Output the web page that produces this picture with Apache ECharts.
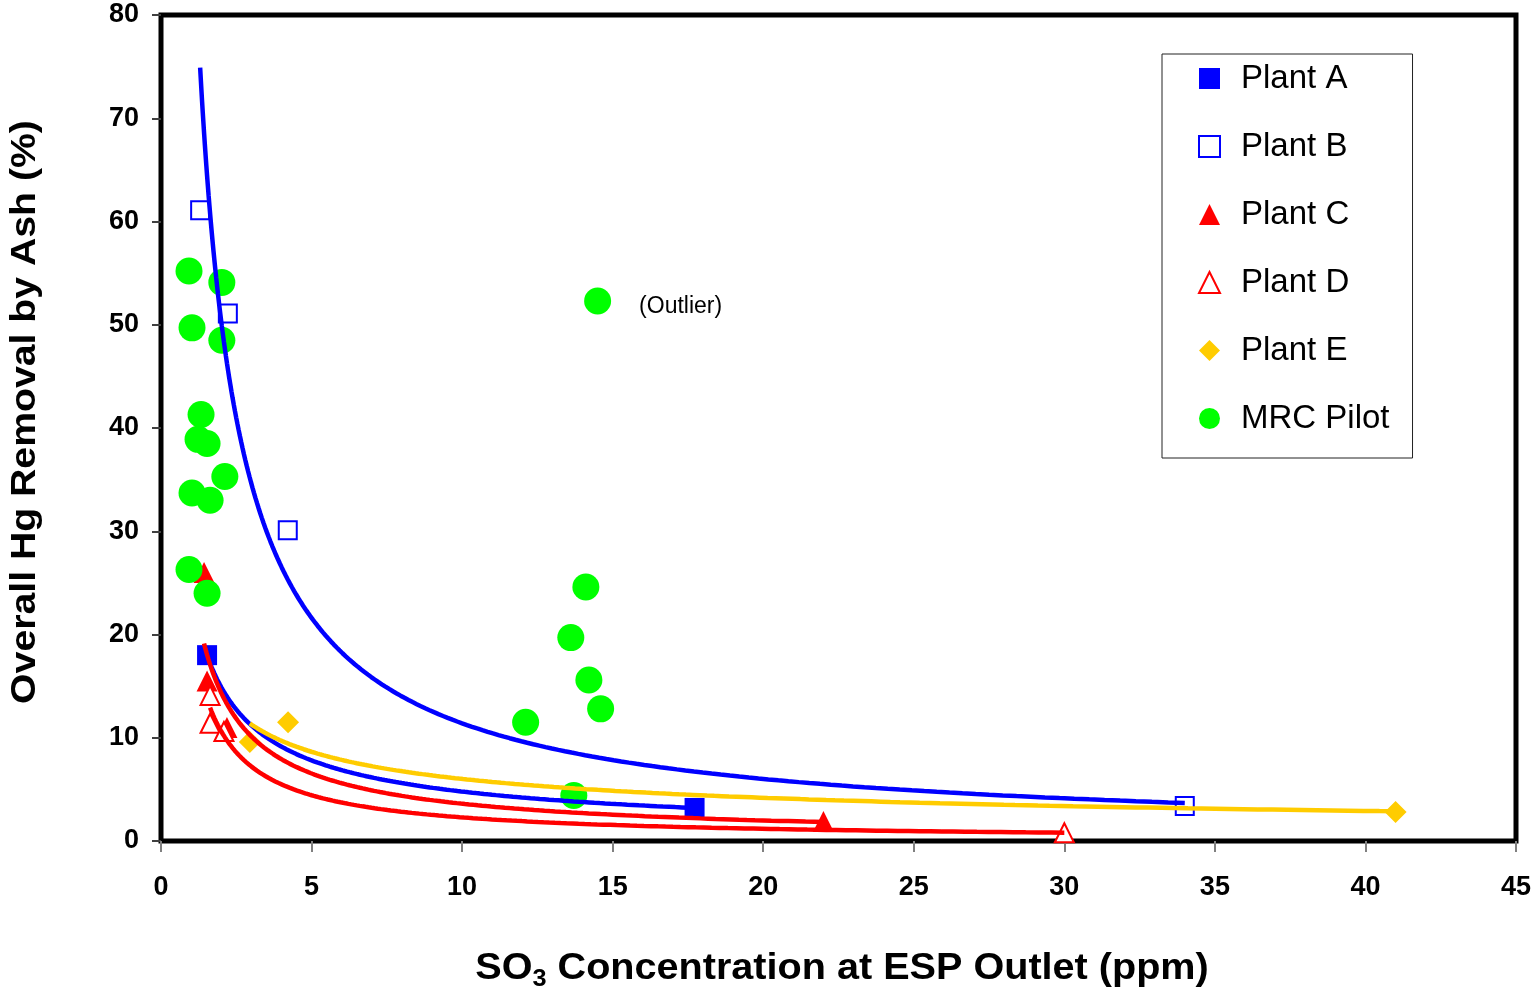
<!DOCTYPE html>
<html>
<head>
<meta charset="utf-8">
<script src="https://cdn.jsdelivr.net/npm/echarts@6/dist/echarts.min.js"></script>
<style>
  html, body { margin: 0; padding: 0; background: #fff; }
  #chart { width: 1536px; height: 991px; }
</style>
</head>
<body>
<div id="chart"></div>
<script>
// ---- Data (SO3 ppm, Hg removal %) ----
const plantA = [[1.53, 18.0], [17.72, 3.2]];
const plantB = [[1.30, 61.1], [2.22, 51.1], [4.21, 30.1], [34.0, 3.4]];
const plantC = [[1.43, 26.0], [1.53, 15.5], [2.19, 11.0], [22.0, 1.9]];
const plantD = [[1.63, 14.1], [1.63, 11.4], [2.09, 10.6], [30.0, 0.8]];
const plantE = [[2.95, 9.6], [4.22, 11.5], [41.0, 2.8]];
const mrcPilot = [
  [0.93, 55.2], [2.02, 54.1], [1.03, 49.7], [2.02, 48.5], [1.33, 41.3],
  [1.23, 38.9], [1.53, 38.5], [2.12, 35.3], [1.03, 33.7], [1.63, 33.0],
  [0.93, 26.3], [1.53, 24.0], [14.11, 24.6], [13.61, 19.7],
  [14.21, 15.6], [14.60, 12.8], [12.11, 11.5], [13.71, 4.4]
];
const mrcOutlier = [14.5, 52.3];
const outlierLabel = '(Outlier)';
const seriesNames = ['Plant A', 'Plant B', 'Plant C', 'Plant D', 'Plant E', 'MRC Pilot'];
const xTicks = { min: 0, max: 45, interval: 5 };
const yTicks = { min: 0, max: 80, interval: 10 };

// ---- Power-law trendline (least squares on ln-ln), as in spreadsheet trendlines ----
function powerTrend(points, n) {
  const lx = points.map(p => Math.log(p[0]));
  const ly = points.map(p => Math.log(p[1]));
  const N = points.length;
  const sx = lx.reduce((s, v) => s + v, 0);
  const sy = ly.reduce((s, v) => s + v, 0);
  let sxy = 0, sxx = 0;
  for (let i = 0; i < N; i++) { sxy += lx[i] * ly[i]; sxx += lx[i] * lx[i]; }
  const b = (N * sxy - sx * sy) / (N * sxx - sx * sx);
  const a = Math.exp((sy - b * sx) / N);
  const xs = points.map(p => p[0]);
  const x0 = Math.min.apply(null, xs), x1 = Math.max.apply(null, xs);
  const out = [];
  for (let i = 0; i <= n; i++) {
    const x = x0 * Math.pow(x1 / x0, i / n);
    out.push([x, a * Math.pow(x, b)]);
  }
  return out;
}

const BLUE = '#0000FF', RED = '#FF0000', GOLD = '#FFCC00', GREEN = '#00FF00';
const FONT = '"Liberation Sans", Arial, Helvetica, sans-serif';

function trend(name, pts, color) {
  return {
    name: name, type: 'line', data: powerTrend(pts, 200),
    showSymbol: false, symbol: 'none', smooth: false, z: 5,
    lineStyle: { color: color, width: 4.5 }, silent: true
  };
}

const chart = echarts.init(document.getElementById('chart'), null, { renderer: 'canvas' });
chart.setOption({
  animation: false,
  backgroundColor: '#fff',
  textStyle: { fontFamily: FONT },
  grid: {
    left: 161, right: 20, top: 15, bottom: 150,
    show: true, borderColor: '#000', borderWidth: 5, backgroundColor: 'transparent'
  },
  xAxis: {
    type: 'value', min: xTicks.min, max: xTicks.max, interval: xTicks.interval,
    axisLine: { show: false },
    axisTick: { show: true, length: 11, lineStyle: { color: '#808080', width: 2 } },
    axisLabel: { margin: 33, fontSize: 27, fontWeight: 'bold', color: '#000', fontFamily: FONT },
    splitLine: { show: false }
  },
  yAxis: {
    type: 'value', min: yTicks.min, max: yTicks.max, interval: yTicks.interval,
    axisLine: { show: false },
    axisTick: { show: true, length: 9, lineStyle: { color: '#404040', width: 2 } },
    axisLabel: { margin: 22, fontSize: 27, fontWeight: 'bold', color: '#000', fontFamily: FONT },
    splitLine: { show: false }
  },
  legend: {
    show: true, orient: 'vertical', left: 1162, top: 54,
    padding: [8, 23, 23, 36], itemGap: 35, itemWidth: 21, itemHeight: 21,
    borderColor: '#222', borderWidth: 1, backgroundColor: '#fff',
    textStyle: { fontSize: 33, lineHeight: 30, color: '#000', fontFamily: FONT, padding: [0, 0, 0, 16] },
    data: seriesNames
  },
  series: [
    { name: seriesNames[0], type: 'scatter', data: plantA, symbol: 'rect', symbolSize: 20, z: 2,
      itemStyle: { color: BLUE, opacity: 1 } },
    { name: seriesNames[1], type: 'scatter', data: plantB, symbol: 'emptyRect', symbolSize: 18, z: 2,
      itemStyle: { color: BLUE, borderColor: BLUE, borderWidth: 2.5, opacity: 1 } },
    { name: seriesNames[2], type: 'scatter', data: plantC, symbol: 'triangle', symbolSize: 21, z: 2,
      itemStyle: { color: RED, opacity: 1 } },
    { name: seriesNames[3], type: 'scatter', data: plantD, symbol: 'emptyTriangle', symbolSize: 19, z: 2,
      itemStyle: { color: RED, borderColor: RED, borderWidth: 2.5, opacity: 1 } },
    { name: seriesNames[4], type: 'scatter', data: plantE, symbol: 'diamond', symbolSize: 22, z: 2,
      itemStyle: { color: GOLD, opacity: 1 } },
    { name: seriesNames[5], type: 'scatter', symbol: 'circle', symbolSize: 27, z: 3,
      itemStyle: { color: GREEN, opacity: 1 },
      data: mrcPilot.concat([{
        value: mrcOutlier,
        label: { show: true, formatter: outlierLabel, position: 'right', distance: 28,
                 offset: [0, 6], fontSize: 23, color: '#000', fontFamily: FONT }
      }]) },
    trend('Plant A trend', plantA, BLUE),
    trend('Plant B trend', plantB, BLUE),
    trend('Plant C trend', plantC, RED),
    trend('Plant D trend', plantD, RED),
    trend('Plant E trend', plantE, GOLD)
  ],
  graphic: [
    {
      type: 'text', x: 842, y: 969, scaleX: 1.1, z: 10,
      style: {
        text: 'SO{sub|3} Concentration at ESP Outlet (ppm)',
        fontSize: 36, fontWeight: 'bold', fontFamily: FONT, fill: '#000',
        align: 'center', verticalAlign: 'middle', lineHeight: 44,
        rich: { sub: { fontSize: 23, fontWeight: 'bold', fontFamily: FONT, verticalAlign: 'bottom', lineHeight: 44 } }
      }
    },
    {
      type: 'text', x: 25, y: 412, rotation: Math.PI / 2, scaleX: 1.12, z: 10,
      style: {
        text: 'Overall Hg Removal by Ash (%)',
        fontSize: 35, fontWeight: 'bold', fontFamily: FONT, fill: '#000',
        align: 'center', verticalAlign: 'middle'
      }
    }
  ]
});
</script>
</body>
</html>
